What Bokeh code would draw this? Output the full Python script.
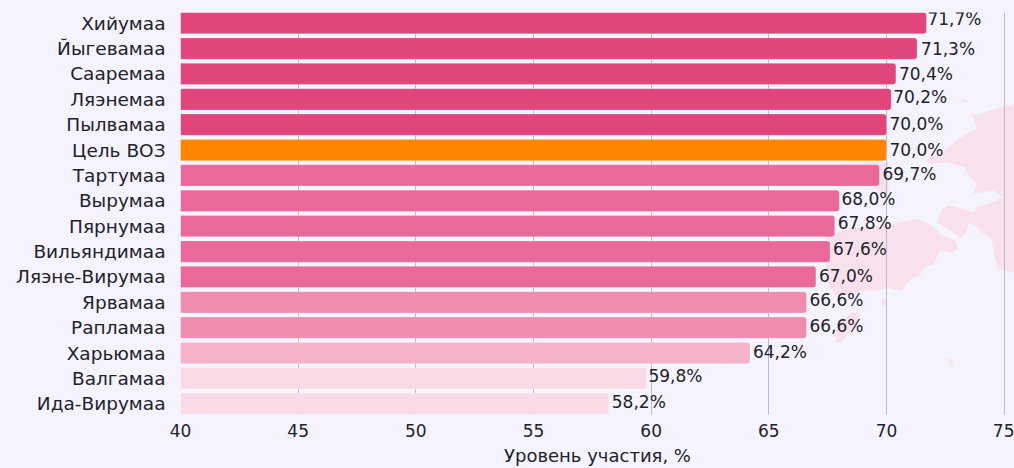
from bokeh.plotting import figure
from bokeh.models import ColumnDataSource, Range1d, FixedTicker
from bokeh.core.properties import value
from bokeh.embed import file_html
from bokeh.resources import INLINE

regions = ["Хийумаа", "Йыгевамаа", "Сааремаа", "Ляэнемаа", "Пылвамаа", "Цель ВОЗ", "Тартумаа", "Вырумаа",
           "Пярнумаа", "Вильяндимаа", "Ляэне-Вирумаа", "Ярвамаа", "Рапламаа", "Харьюмаа", "Валгамаа", "Ида-Вирумаа"]
values = [71.7, 71.3, 70.4, 70.2, 70.0, 70.0, 69.7, 68.0, 67.8, 67.6, 67.0, 66.6, 66.6, 64.2, 59.8, 58.2]
colors = ["#e0457b"] * 5 + ["#ff8400"] + ["#e8699a"] * 5 + ["#ee8db0"] * 2 + ["#f4b3c8"] + ["#fadae6"] * 2
label_dx = [1, 4, 3, 2, 3, 3, 3, 2, 3, 3, 3, 3, 3, 3, 2, 3]
label_dy = [-4, 0, 0, -2, -1, 0, -1, -2, -3, -3, -1, -2, -2, -1, -2, -2]
ticks = [40, 45, 50, 55, 60, 65, 70, 75]
axis_title = "Уровень участия, %"

# decorative background map silhouette, traced in reference pixels
map_shapes = [
    ([1014, 995, 985, 972, 976, 964, 956, 942, 924, 930, 945, 964, 968, 976, 973, 993, 1002, 994, 976, 974, 965, 948,
      941, 936, 947, 960, 966, 968, 974, 981, 991, 994, 997, 1014],
     [103, 108, 112, 115, 128, 135, 140, 152, 160, 163, 162, 166, 175, 183, 193, 190, 197, 201, 207, 212, 209, 205,
      210, 222, 228, 237, 232, 222, 225, 232, 238, 255, 268, 272]),
    ([855, 880, 894, 917, 931, 942, 955, 957, 952, 941, 937, 934, 924, 919, 912, 906, 901, 887, 878, 865, 855, 835, 828, 825, 825],
     [227, 226, 223, 218, 225, 235, 240, 248, 252, 250, 255, 263, 267, 275, 277, 283, 290, 287, 290, 290, 293, 295, 285, 260, 235]),
    ([838, 880, 888, 888, 878, 860, 840], [163, 162, 163, 193, 190, 175, 170]),
    ([835, 841, 858, 860, 852, 836], [342, 342, 320, 312, 312, 325]),
    ([880, 884, 886, 882], [300, 297, 303, 306]),
    ([947, 950, 953, 951], [359, 358, 363, 365]),
    ([961, 967, 966, 962], [98, 100, 102, 101]),
]

FONT = "DejaVu Sans"
BG = "#f5f3ff"
TEXT = "#22222a"

rows = list(range(len(regions)))
source = ColumnDataSource(dict(
    row=rows, value=values, color=colors,
    label=[f"{v:.1f}%".replace(".", ",") for v in values],
    dx=label_dx, dy=label_dy,
))

p = figure(width=1014, height=468, output_backend="svg", toolbar_location=None,
           x_range=Range1d(40, 75.44),
           y_range=Range1d(len(regions) - 1 + 0.42, -0.42),
           min_border_left=180, min_border_right=0, min_border_top=12, min_border_bottom=54,
           background_fill_color=BG, border_fill_color=BG, outline_line_color=None)

p.extra_x_ranges = {"map": Range1d(180, 1014)}
p.extra_y_ranges = {"map": Range1d(414, 12)}
for mx, my in map_shapes:
    p.patch(mx, my, fill_color="#f8e1ec", line_color=None, level="image",
            x_range_name="map", y_range_name="map")

p.hbar(y="row", left=40, right="value", height=0.84, source=source,
       fill_color="color", line_color="#ffffff", line_alpha=0.25, line_width=1,
       border_radius=(0, 3, 3, 0))
p.text(x="value", y="row", text="label", source=source, x_offset="dx", y_offset="dy",
       text_font=value(FONT), text_font_size="17px", text_color=TEXT,
       text_align="left", text_baseline="middle")

p.xgrid.ticker = FixedTicker(ticks=ticks)
p.xgrid.grid_line_color = "#bcbbc8"
p.xgrid.grid_line_width = 1
p.ygrid.visible = False

p.xaxis.ticker = FixedTicker(ticks=ticks)
p.yaxis.ticker = FixedTicker(ticks=rows)
p.yaxis.major_label_overrides = dict(zip(rows, regions))
p.xaxis.axis_label = axis_title
p.xaxis.axis_label_text_font = FONT
p.xaxis.axis_label_text_font_size = "18px"
p.xaxis.axis_label_text_font_style = "normal"
p.xaxis.axis_label_text_color = TEXT
p.xaxis.axis_label_standoff = 5
for ax in (p.xaxis, p.yaxis):
    ax.axis_line_color = None
    ax.major_tick_line_color = None
    ax.minor_tick_line_color = None
    ax.major_tick_out = 0
    ax.major_tick_in = 0
    ax.major_label_text_font = FONT
    ax.major_label_text_color = TEXT
p.xaxis.major_label_text_font_size = "17px"
p.yaxis.major_label_text_font_size = "18.5px"
p.xaxis.major_label_standoff = 9
p.yaxis.major_label_standoff = 15

html = file_html(p, INLINE).replace("</head>", f"<style>html,body{{background:{BG};}}</style></head>", 1)
open("out.html", "w").write(html)
